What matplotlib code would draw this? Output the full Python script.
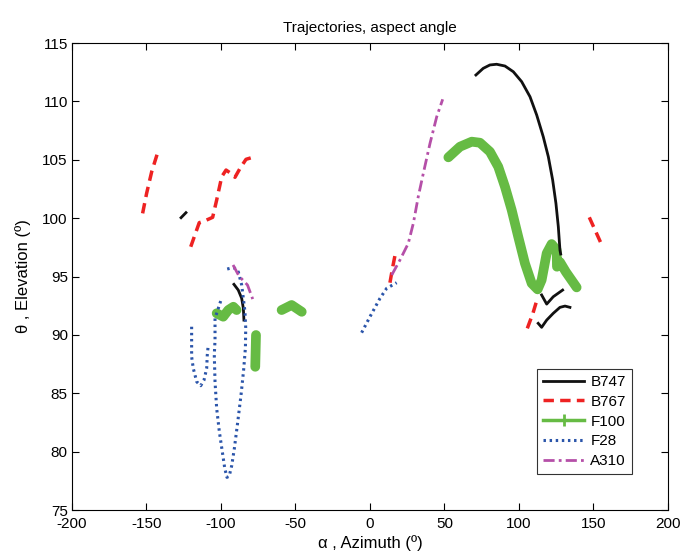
import numpy as np
import matplotlib
matplotlib.use("Agg")
import matplotlib.pyplot as plt
from matplotlib.lines import Line2D

plt.rcParams['font.family'] = ['Liberation Sans', 'DejaVu Sans']
plt.rcParams['axes.unicode_minus'] = False

# B747 (black solid) - several pieces
b747_az = [
    [71.1, 76.0, 80.5, 85.0, 90.6, 96.2, 101.8, 107.4, 111.9, 116.3, 119.7, 122.6,
     124.8, 126.4, 127.5, 128.0],
    [115.2, 118.6, 123.0, 129.3],
    [112.9, 115.2, 118.6, 123.0, 127.5, 130.9, 134.2],
    [-126.8, -123.5],
    [-91.3, -88.4, -86.1, -85.0, -84.6],
]
b747_el = [
    [112.26, 112.83, 113.12, 113.18, 113.03, 112.54, 111.69, 110.4, 108.83, 106.97, 105.26,
     103.27, 101.27, 99.27, 97.27, 96.93],
    [93.42, 92.64, 93.27, 93.84],
    [90.99, 90.65, 91.27, 91.85, 92.36, 92.47, 92.36],
    [100.04, 100.47],
    [94.33, 93.84, 93.13, 92.28, 91.27],
]

# B767 (red dashed)
b767_az = [
    [-152.6, -149.9, -146.5, -142.8],
    [-120.3, -114.6, -110.7, -105.6, -102.9, -99.5, -96.6, -94.0, -90.6, -87.2, -83.2, -78.7],
    [13.4, 15.4, 17.4],
    [105.6, 109.4, 111.9],
    [147.2, 155.9],
]
b767_el = [
    [100.41, 102.13, 103.98, 105.49],
    [97.55, 99.61, 99.78, 100.07, 101.55, 103.55, 104.12, 103.89, 103.5, 104.27, 105.04, 105.21],
    [94.47, 95.9, 97.21],
    [90.56, 91.87, 92.93],
    [100.07, 97.61],
]

# F100 (green, thick with + markers)
f100_az = [
    [52.6, 60.4, 68.3, 73.8, 80.5, 86.1, 90.6, 95.1, 99.5, 104.0, 108.5, 112.5,
     115.2, 118.6, 121.9, 125.3, 125.5, 127.5, 131.5, 138.7],
    [-102.9, -98.5, -95.1, -91.7, -89.5],
    [-76.5, -77.0],
    [-59.3, -52.6, -45.8],
]
f100_el = [
    [105.21, 106.12, 106.55, 106.46, 105.69, 104.4, 102.69, 100.7, 98.41, 96.13, 94.42, 93.9,
     94.7, 96.99, 97.78, 97.27, 95.84, 96.24, 95.39, 94.07],
    [91.85, 91.56, 92.13, 92.41, 92.13],
    [89.99, 87.27],
    [92.13, 92.56, 91.98],
]

# F28 (blue dotted)
f28_az = [
    [-100.2, -104.0, -104.0, -104.5, -104.0, -102.9, -101.1, -99.0, -97.5, -96.0, -94.5,
     -92.8, -91.0, -88.8, -86.6, -84.8, -83.6, -83.4, -83.9, -86.1, -88.4, -91.1, -94.0, -96.6],
    [-119.7, -119.7, -119.7, -118.6, -116.3, -113.6, -111.4, -109.6, -109.2, -108.5],
    [-5.6, 0.0, 6.7, 11.2, 17.9],
]
f28_el = [
    [92.9, 91.42, 89.56, 88.28, 85.99, 83.71, 81.71, 79.9, 78.6, 77.8, 77.9,
     78.8, 80.3, 82.5, 84.8, 87.0, 88.9, 90.6, 91.98, 94.27, 95.41, 95.75, 95.7, 95.62],
    [90.7, 89.13, 88.13, 87.14, 85.99, 85.65, 86.13, 87.14, 88.28, 89.19],
    [90.19, 91.56, 93.13, 93.99, 94.47],
]

# A310 (magenta dash-dot)
a310_az = [
    [14.6, 20.1, 25.7, 29.1, 32.4, 35.8, 40.3, 44.8, 48.8],
    [-91.9, -87.9, -82.2, -78.7],
]
a310_el = [
    [95.13, 96.41, 97.84, 99.56, 101.84, 103.84, 106.41, 108.69, 110.18],
    [95.99, 95.04, 94.27, 93.07],
]

c_black = '#111111'
c_red = '#ee2222'
c_green = '#66bb44'
c_blue = '#2b55aa'
c_mag = '#b54fa8'

ls_red = (0, (3, 1.8))
ls_blue = (0, (0.8, 1.2))
ls_mag = (0, (4, 1.5, 1, 1.5))

fig = plt.figure(figsize=(6.83, 5.55), dpi=100)
ax = fig.add_axes([0.1054, 0.081, 0.8726, 0.8415])

for x, y in zip(f100_az, f100_el):
    ax.plot(x, y, color=c_green, lw=7, solid_capstyle='round', solid_joinstyle='round')
for x, y in zip(b747_az, b747_el):
    ax.plot(x, y, color=c_black, lw=2)
for x, y in zip(b767_az, b767_el):
    ax.plot(x, y, color=c_red, lw=2.5, linestyle=ls_red)
for x, y in zip(f28_az, f28_el):
    ax.plot(x, y, color=c_blue, lw=2.2, linestyle=ls_blue)
for x, y in zip(a310_az, a310_el):
    ax.plot(x, y, color=c_mag, lw=2, linestyle=ls_mag)

ax.set_xlim(-200, 200)
ax.set_ylim(75, 115)
ax.set_xticks(np.arange(-200, 201, 50))
ax.set_yticks(np.arange(75, 116, 5))
ax.tick_params(direction='in', top=True, right=True, labelsize=11, length=5, pad=3)
ax.tick_params(axis='x', pad=5)
for s in ax.spines.values():
    s.set_linewidth(0.8)

ax.set_title('Trajectories, aspect angle', fontsize=11, pad=8)
ax.set_xlabel('α , Azimuth (º)', fontsize=12, labelpad=3)
ax.set_ylabel('θ , Elevation (º)', fontsize=12, labelpad=8)

handles = [
    Line2D([], [], color=c_black, lw=2),
    Line2D([], [], color=c_red, lw=2.5, linestyle=ls_red),
    Line2D([], [], color=c_green, lw=2.5, marker='+', markersize=8, markeredgewidth=2),
    Line2D([], [], color=c_blue, lw=2.2, linestyle=ls_blue),
    Line2D([], [], color=c_mag, lw=2, linestyle=ls_mag),
]
labels = ['B747', 'B767', 'F100', 'F28', 'A310']
leg = ax.legend(handles, labels, loc='lower right', bbox_to_anchor=(0.945, 0.07),
                fontsize=11, frameon=True, fancybox=False, edgecolor='black',
                handlelength=2.7, borderpad=0.4, labelspacing=0.38, handletextpad=0.4,
                borderaxespad=0.2)
leg.get_frame().set_linewidth(0.8)

fig.savefig('out.png', dpi=100)
